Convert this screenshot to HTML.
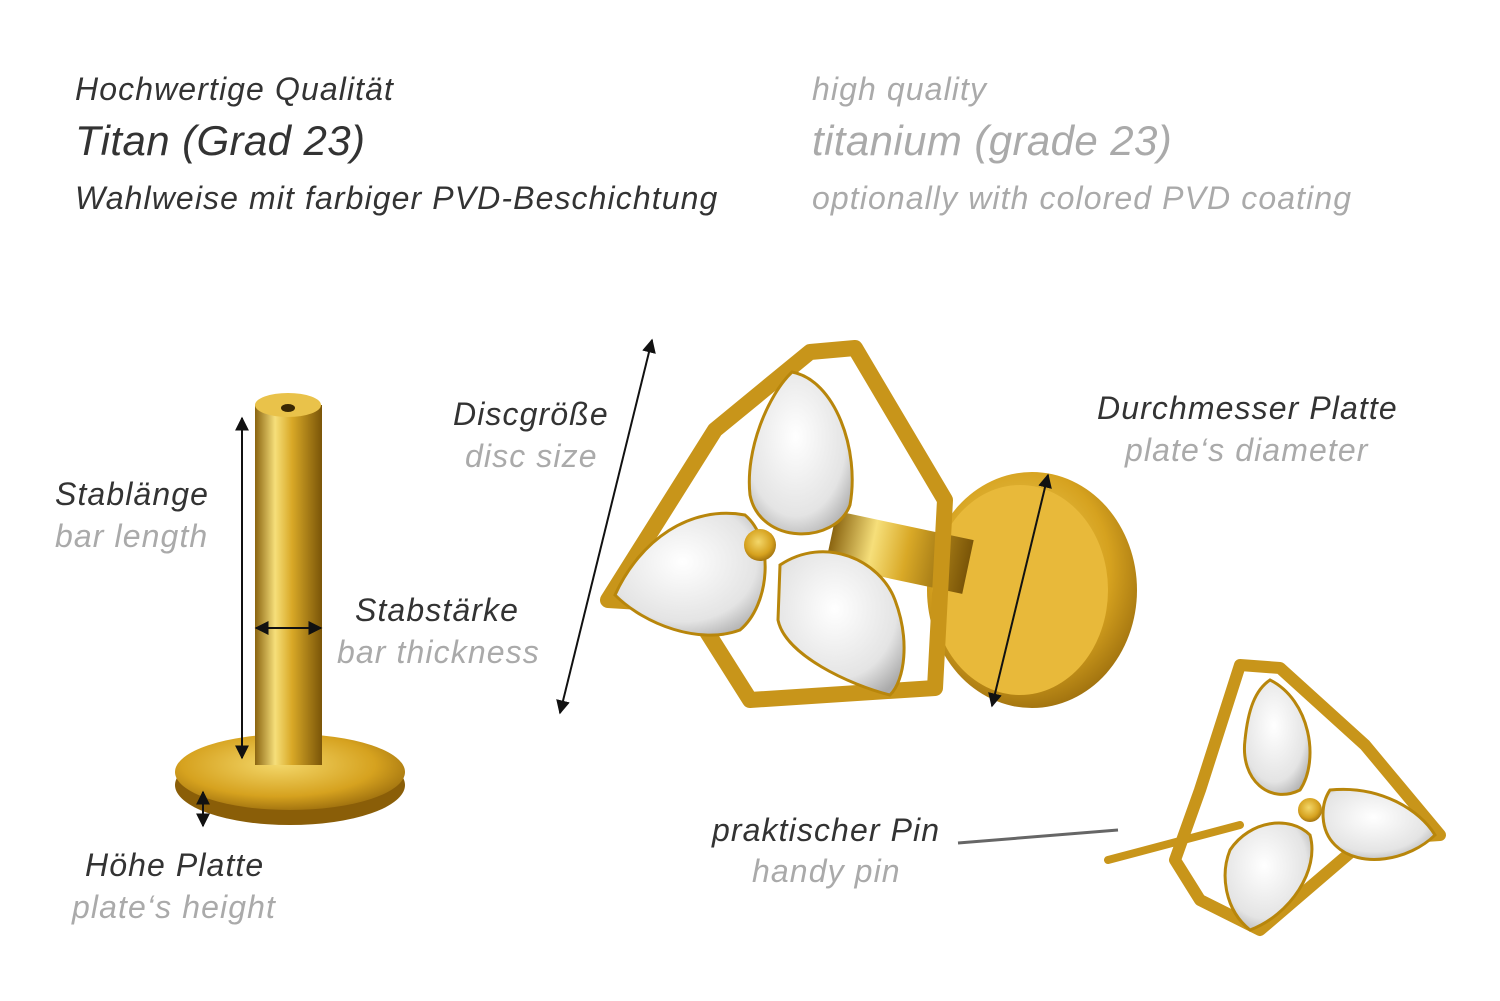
<!DOCTYPE html>
<html><head><meta charset="utf-8"><style>
html,body{margin:0;padding:0;background:#fff}
#w{position:relative;width:1500px;height:1001px;overflow:hidden;font-family:"Liberation Sans",sans-serif;font-style:italic}
.t{position:absolute;white-space:nowrap;line-height:1;font-size:32px;letter-spacing:1.1px}
.big{font-size:42px;letter-spacing:0.4px}
.d{color:#333}.g{color:#aaa}
</style></head><body><div id="w">
<svg width="1500" height="1001" style="position:absolute;left:0;top:0">
<defs>
<linearGradient id="gb" x1="0" x2="1"><stop offset="0" stop-color="#8a6410"/><stop offset=".3" stop-color="#f6df7a"/><stop offset=".55" stop-color="#d9a927"/><stop offset="1" stop-color="#7a5508"/></linearGradient>
<radialGradient id="gd" cx=".45" cy=".4" r=".7"><stop offset="0" stop-color="#f3d76a"/><stop offset=".6" stop-color="#d6a21f"/><stop offset="1" stop-color="#8a5e08"/></radialGradient>
<radialGradient id="gem" cx=".45" cy=".4" r=".7"><stop offset="0" stop-color="#fff"/><stop offset=".7" stop-color="#e4e4e4"/><stop offset="1" stop-color="#aaa"/></radialGradient>
<marker id="a" viewBox="0 0 10 10" refX="9" refY="5" markerWidth="7" markerHeight="7" orient="auto-start-reverse"><path d="M0,0L10,5L0,10z" fill="#111"/></marker>
</defs>
<ellipse cx="290" cy="785" rx="115" ry="40" fill="#8a5e08"/>
<ellipse cx="290" cy="772" rx="115" ry="38" fill="url(#gd)"/>
<rect x="255" y="405" width="67" height="360" fill="url(#gb)"/>
<ellipse cx="288" cy="405" rx="33" ry="12" fill="#e9c24a"/>
<ellipse cx="288" cy="408" rx="7" ry="4" fill="#3a2804"/>
<line x1="242" y1="418" x2="242" y2="758" stroke="#111" stroke-width="2" marker-start="url(#a)" marker-end="url(#a)"/>
<line x1="256" y1="628" x2="321" y2="628" stroke="#111" stroke-width="2" marker-start="url(#a)" marker-end="url(#a)"/>
<line x1="203" y1="792" x2="203" y2="826" stroke="#111" stroke-width="2" marker-start="url(#a)" marker-end="url(#a)"/>
<ellipse cx="1032" cy="590" rx="105" ry="118" fill="url(#gd)"/>
<ellipse cx="1020" cy="590" rx="88" ry="105" fill="#e8b93a"/>
<rect x="830" y="525" width="140" height="55" fill="url(#gb)" transform="rotate(12 900 550)"/>
<path d="M810 352 L855 348 L945 500 L935 688 L750 700 L690 605 L608 600 L715 430 Z" fill="none" stroke="#c8951a" stroke-width="16" stroke-linejoin="round"/>
<path d="M792 372 C835 380 860 450 850 505 C835 545 760 545 750 495 C745 450 768 395 792 372Z" fill="url(#gem)" stroke="#b8860b" stroke-width="3"/>
<path d="M615 595 C640 540 690 505 745 515 C775 540 770 605 740 630 C700 645 645 625 615 595Z" fill="url(#gem)" stroke="#b8860b" stroke-width="3"/>
<path d="M780 565 C825 535 880 560 895 600 C910 640 905 680 890 695 C850 685 785 655 778 620Z" fill="url(#gem)" stroke="#b8860b" stroke-width="3"/>
<circle cx="760" cy="545" r="16" fill="url(#gd)"/>
<line x1="652" y1="340" x2="560" y2="713" stroke="#111" stroke-width="2" marker-start="url(#a)" marker-end="url(#a)"/>
<line x1="1048" y1="475" x2="992" y2="706" stroke="#111" stroke-width="2" marker-start="url(#a)" marker-end="url(#a)"/>
<line x1="1108" y1="860" x2="1240" y2="825" stroke="#c8951a" stroke-width="8" stroke-linecap="round"/>
<path d="M1240 665 L1280 668 L1365 745 L1440 835 L1365 840 L1260 930 L1200 900 L1175 860 L1200 790 Z" fill="none" stroke="#c8951a" stroke-width="12" stroke-linejoin="round"/>
<path d="M1270 680 C1310 700 1320 760 1300 790 C1270 805 1240 780 1245 740 C1248 710 1255 690 1270 680Z" fill="url(#gem)" stroke="#b8860b" stroke-width="3"/>
<path d="M1330 790 C1380 785 1420 810 1435 835 C1410 860 1360 870 1335 845 C1320 830 1320 805 1330 790Z" fill="url(#gem)" stroke="#b8860b" stroke-width="3"/>
<path d="M1230 850 C1250 820 1290 815 1310 835 C1320 870 1290 915 1250 930 C1225 910 1220 875 1230 850Z" fill="url(#gem)" stroke="#b8860b" stroke-width="3"/>
<circle cx="1310" cy="810" r="12" fill="url(#gd)"/>
<line x1="958" y1="843" x2="1118" y2="830" stroke="#666" stroke-width="3"/>
</svg>
<div class="t d" style="left:75px;top:73px">Hochwertige Qualität</div>
<div class="t d big" style="left:75px;top:120px">Titan (Grad 23)</div>
<div class="t d" style="left:75px;top:182px">Wahlweise mit farbiger PVD-Beschichtung</div>
<div class="t g" style="left:812px;top:73px">high quality</div>
<div class="t g big" style="left:812px;top:120px">titanium (grade 23)</div>
<div class="t g" style="left:812px;top:182px">optionally with colored PVD coating</div>
<div class="t d" style="left:55px;top:478px">Stablänge</div>
<div class="t g" style="left:55px;top:520px">bar length</div>
<div class="t d" style="left:355px;top:594px">Stabstärke</div>
<div class="t g" style="left:337px;top:636px">bar thickness</div>
<div class="t d" style="left:85px;top:849px">Höhe Platte</div>
<div class="t g" style="left:72px;top:891px">plate‘s height</div>
<div class="t d" style="left:453px;top:398px">Discgröße</div>
<div class="t g" style="left:465px;top:440px">disc size</div>
<div class="t d" style="left:1097px;top:392px">Durchmesser Platte</div>
<div class="t g" style="left:1125px;top:434px">plate‘s diameter</div>
<div class="t d" style="left:712px;top:814px">praktischer Pin</div>
<div class="t g" style="left:752px;top:855px">handy pin</div>
</div></body></html>
